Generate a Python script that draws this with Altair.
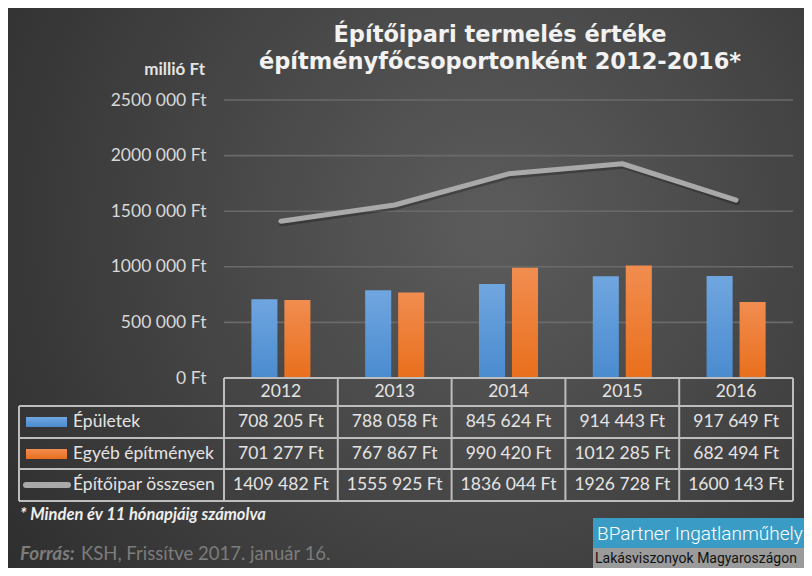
import altair as alt
import pandas as pd

years = ["2012", "2013", "2014", "2015", "2016"]
epuletek = [708205, 788058, 845624, 914443, 917649]
egyeb = [701277, 767867, 990420, 1012285, 682494]
osszesen = [1409482, 1555925, 1836044, 1926728, 1600143]
series_names = ["Épületek", "Egyéb építmények", "Építőipar összesen"]
y_ticks = [0, 500000, 1000000, 1500000, 2000000, 2500000]
title_lines = ["Építőipari termelés értéke", "építményfőcsoportonként 2012-2016*"]
unit_label = "millió Ft"
footnote = "* Minden év 11 hónapjáig számolva"
source_bold = "Forrás:"
source_rest = "KSH, Frissítve 2017. január 16."
logo_top = "BPartner Ingatlanműhely"
logo_bottom = "Lakásviszonyok Magyaroszágon"


def fmt(v):
    if v < 1000:
        return f"{v} Ft"
    return f"{v // 1000} {v % 1000:03d} Ft"


W, H = 569, 278
FONT = "Lato"
TXT = "#e4e4e4"
LINEC = "#bdbdbd"
FS = 17.5

bars_a = pd.DataFrame({"year": years, "value": epuletek, "series": series_names[0]})
bars_b = pd.DataFrame({"year": years, "value": egyeb, "series": series_names[1]})
line_df = pd.DataFrame({"year": years, "value": osszesen})
one = pd.DataFrame({"k": [0]})

xs = alt.Scale(domain=years, paddingInner=0, paddingOuter=0)
ys = alt.Scale(domain=[0, 2500000], nice=False)
xo = alt.XOffset("series:N", scale=alt.Scale(domain=series_names[:2], paddingInner=0.21, paddingOuter=0.83))

bg = alt.Chart(one).mark_rect(color={
    "gradient": "radial", "x1": 0.6, "y1": 0.42, "r1": 0, "x2": 0.6, "y2": 0.42, "r2": 0.75,
    "stops": [{"offset": 0, "color": "#5c5c5c"}, {"offset": 1, "color": "#2c2c2c"}]
}).encode(x=alt.value(-230), x2=alt.value(600), y=alt.value(-100), y2=alt.value(480))

grid = alt.Chart(pd.DataFrame({"v": y_ticks})).mark_rule(color="#6a6a6a", strokeWidth=1.6).encode(
    x=alt.value(0), x2=alt.value(W),
    y=alt.Y("v:Q", scale=ys, axis=alt.Axis(
        values=y_ticks, title=None, domain=False, ticks=False, grid=False, zindex=1,
        labelExpr="datum.value == 0 ? '0 Ft' : floor(datum.value/1000) + ' 000 Ft'",
        labelFont=FONT, labelFontSize=FS, labelColor="#d8d8d8", labelPadding=18)))

blue_grad = {"gradient": "linear", "x1": 0, "y1": 0, "x2": 0, "y2": 1,
             "stops": [{"offset": 0, "color": "#70a6e0"}, {"offset": 1, "color": "#4a8bcf"}]}
orange_grad = {"gradient": "linear", "x1": 0, "y1": 0, "x2": 0, "y2": 1,
               "stops": [{"offset": 0, "color": "#f18d50"}, {"offset": 1, "color": "#e96f1c"}]}

bar1 = alt.Chart(bars_a).mark_bar(color=blue_grad).encode(
    x=alt.X("year:N", scale=xs, axis=None), xOffset=xo,
    y=alt.Y("value:Q", scale=ys))
bar2 = alt.Chart(bars_b).mark_bar(color=orange_grad).encode(
    x=alt.X("year:N", scale=xs, axis=None), xOffset=xo,
    y=alt.Y("value:Q", scale=ys))

line_shadow = alt.Chart(line_df).mark_line(color="#000000", opacity=0.25, strokeWidth=6, strokeCap="round",
                                           strokeJoin="round", yOffset=2, xOffset=1).encode(
    x=alt.X("year:N", scale=xs), y=alt.Y("value:Q", scale=ys))
line = alt.Chart(line_df).mark_line(color="#a9a9a9", strokeWidth=5, strokeCap="round", strokeJoin="round").encode(
    x=alt.X("year:N", scale=xs), y=alt.Y("value:Q", scale=ys))

# table structure
table_rules = []
for yy in [306, 338, 369, 401]:
    table_rules.append(alt.Chart(one).mark_rule(color=LINEC, strokeWidth=2).encode(
        x=alt.value(-205), x2=alt.value(W), y=alt.value(yy)))
table_rules.append(alt.Chart(one).mark_rule(color=LINEC, strokeWidth=2).encode(
    x=alt.value(0), x2=alt.value(W), y=alt.value(H)))
table_rules.append(alt.Chart(pd.DataFrame({"year": years})).mark_rule(color=LINEC, strokeWidth=2).encode(
    x=alt.X("year:N", scale=xs, bandPosition=0), y=alt.value(H), y2=alt.value(401)))
table_rules.append(alt.Chart(one).mark_rule(color=LINEC, strokeWidth=2).encode(
    x=alt.value(W), y=alt.value(H), y2=alt.value(401)))
table_rules.append(alt.Chart(one).mark_rule(color=LINEC, strokeWidth=2).encode(
    x=alt.value(-205), y=alt.value(306), y2=alt.value(401)))

hdr = alt.Chart(pd.DataFrame({"year": years})).mark_text(font=FONT, fontSize=FS, color=TXT, baseline="middle").encode(
    x=alt.X("year:N", scale=xs), y=alt.value(292), text="year:N")

cells = []
for vals, yy in [(epuletek, 322), (egyeb, 354), (osszesen, 385)]:
    df = pd.DataFrame({"year": years, "t": [fmt(v) for v in vals]})
    cells.append(alt.Chart(df).mark_text(font=FONT, fontSize=FS, color=TXT, baseline="middle").encode(
        x=alt.X("year:N", scale=xs), y=alt.value(yy), text="t:N"))

row_labels = []
for name, yy in zip(series_names, [322, 354, 385]):
    row_labels.append(alt.Chart(pd.DataFrame({"t": [name]})).mark_text(
        font=FONT, fontSize=FS, color=TXT, align="left", baseline="middle").encode(
        x=alt.value(-151), y=alt.value(yy), text="t:N"))

sym1 = alt.Chart(one).mark_rect(color=blue_grad).encode(
    x=alt.value(-198), x2=alt.value(-157), y=alt.value(317), y2=alt.value(327))
sym2 = alt.Chart(one).mark_rect(color=orange_grad).encode(
    x=alt.value(-198), x2=alt.value(-157), y=alt.value(349), y2=alt.value(359))
sym3 = alt.Chart(one).mark_rule(color="#a9a9a9", strokeWidth=6, strokeCap="round").encode(
    x=alt.value(-198), x2=alt.value(-156), y=alt.value(385))

# titles
titles = []
for i, t in enumerate(title_lines):
    d = pd.DataFrame({"t": [t]})
    titles.append(alt.Chart(d).mark_text(font="DejaVu Sans", fontSize=22.5, fontWeight="bold", color="#f2f2f2",
                                         align="center", baseline="alphabetic").encode(
        x=alt.value(276), y=alt.value(-58 + 27 * i), text="t:N"))

unit = alt.Chart(pd.DataFrame({"t": [unit_label]})).mark_text(
    font=FONT, fontSize=17, fontWeight="bold", color=TXT, align="right", baseline="alphabetic").encode(
    x=alt.value(-19), y=alt.value(-25), text="t:N")

foot = alt.Chart(pd.DataFrame({"t": [footnote]})).mark_text(
    font=FONT, fontSize=16.5, fontWeight="bold", fontStyle="italic", color="#eeeeee", align="left",
    baseline="alphabetic").encode(
    x=alt.value(-204), y=alt.value(420), text="t:N")
src1 = alt.Chart(pd.DataFrame({"t": [source_bold]})).mark_text(
    font=FONT, fontSize=19, fontWeight="bold", fontStyle="italic", color="#7c7c7c", align="left",
    baseline="alphabetic").encode(
    x=alt.value(-204), y=alt.value(460), text="t:N")
src2 = alt.Chart(pd.DataFrame({"t": [source_rest]})).mark_text(
    font=FONT, fontSize=18.5, color="#7c7c7c", align="left", baseline="alphabetic").encode(
    x=alt.value(-143), y=alt.value(460), text="t:N")

logo_b = alt.Chart(one).mark_rect(color="#3a9cc4").encode(
    x=alt.value(369), x2=alt.value(600), y=alt.value(418), y2=alt.value(448))
logo_g = alt.Chart(one).mark_rect(color="#9b9b9b").encode(
    x=alt.value(369), x2=alt.value(600), y=alt.value(448), y2=alt.value(480))
logo_t1 = alt.Chart(pd.DataFrame({"t": [logo_top]})).mark_text(
    font="Roboto", fontSize=19, fontWeight=300, color="#ffffff", align="left", baseline="alphabetic").encode(
    x=alt.value(373), y=alt.value(440), text="t:N")
logo_t2 = alt.Chart(pd.DataFrame({"t": [logo_bottom]})).mark_text(
    font="Roboto", fontSize=14, color="#111111", align="left", baseline="alphabetic").encode(
    x=alt.value(371), y=alt.value(463), text="t:N")

chart = alt.layer(
    bg, grid, bar1, bar2, line_shadow, line, *table_rules, hdr, *cells, *row_labels,
    sym1, sym2, sym3, *titles, unit, foot, src1, src2, logo_b, logo_g, logo_t1, logo_t2
).properties(
    width=W, height=H,
    autosize=alt.AutoSizeParams(type="none"),
    padding={"left": 216, "top": 92, "right": 11, "bottom": 190},
    background="#3a3a3a",
).configure_view(stroke=None)

chart.save("out.html", embed_options={"renderer": "svg", "actions": False})
